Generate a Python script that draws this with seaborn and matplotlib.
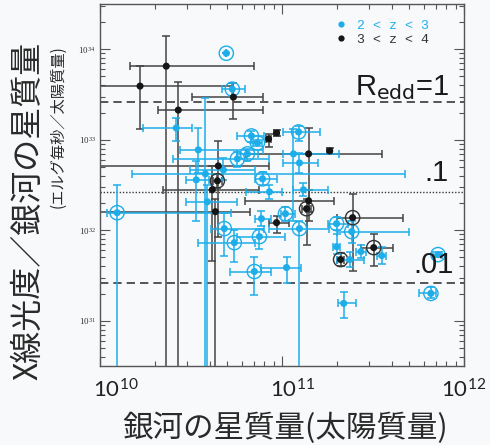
import numpy as np
import pandas as pd
import matplotlib
matplotlib.use("Agg")
import matplotlib.pyplot as plt
import matplotlib.transforms as mtransforms
from matplotlib.lines import Line2D
from matplotlib.ticker import LogLocator, NullFormatter, FixedLocator, FuncFormatter
import seaborn as sns

# ---------------- data (log10 values) ----------------
# 2 < z < 3 (cyan)
c_logm = [10.694, 10.727, 10.419, 10.540, 10.529, 10.579, 10.678, 10.755, 10.810, 10.590,
          10.683, 10.738, 10.094, 10.848, 11.025, 10.876, 10.887, 11.019, 11.096, 11.063,
          11.091, 11.096, 10.893, 10.931, 11.118, 10.832, 10.865, 11.300, 11.383, 11.300,
          11.372, 11.433, 11.548, 11.857, 11.818, 11.339]
c_logr = [33.956, 33.559, 33.130, 32.888, 32.557, 32.623, 32.667, 32.789, 32.844, 32.315,
          32.018, 31.863, 32.194, 31.544, 31.588, 31.930, 32.128, 32.183, 32.018, 32.844,
          33.086, 32.744, 32.568, 32.425, 32.447, 33.042, 32.965, 32.073, 31.985, 31.819,
          31.676, 31.764, 31.720, 31.731, 31.302, 31.192]
c_m_lo = [10.694, 10.672, 10.237, 10.441, 10.474, 10.176, 10.496, 10.402, 10.750, 10.474,
          10.612, 10.540, 10.039, 10.716, 10.882, 10.750, 10.854, 10.992, 10.930, 11.003,
          11.008, 11.003, 10.850, 10.800, 11.060, 10.750, 10.840, 11.250, 11.300, 11.280,
          11.300, 11.405, 11.520, 11.830, 11.752, 11.306]
c_m_hi = [10.694, 10.799, 10.507, 10.893, 10.600, 11.675, 10.850, 10.930, 10.870, 10.750,
          10.900, 10.850, 10.720, 10.937, 11.102, 11.019, 10.937, 11.074, 11.256, 11.311,
          11.207, 11.196, 10.975, 11.000, 11.250, 10.900, 10.890, 11.360, 11.697, 11.320,
          11.450, 11.460, 11.570, 11.880, 11.846, 11.405]
c_r_lo = [33.956, 33.482, 32.987, 32.634, 32.106, 30.000, 32.550, 32.700, 32.770, 30.000,
          31.720, 31.654, 30.000, 31.280, 31.412, 31.797, 32.051, 32.100, 30.000, 32.106,
          32.987, 32.634, 32.500, 32.350, 32.380, 32.980, 32.930, 32.000, 31.860, 31.740,
          31.590, 31.690, 31.630, 31.700, 31.247, 31.027]
c_r_hi = [33.956, 33.626, 33.240, 33.130, 32.767, 33.460, 32.800, 32.870, 32.900, 32.500,
          32.194, 32.007, 32.502, 31.709, 31.709, 32.018, 32.216, 32.260, 32.100, 33.119,
          33.152, 32.855, 32.640, 32.500, 32.520, 33.100, 33.000, 32.150, 32.100, 31.960,
          31.760, 31.840, 31.810, 31.760, 31.368, 31.313]
c_ring = [1, 1, 0, 0, 0, 0, 0, 1, 1, 0,
          1, 1, 1, 1, 0, 1, 0, 1, 1, 0,
          1, 0, 1, 0, 0, 1, 1, 1, 1, 0,
          0, 0, 0, 1, 1, 0]

# 3 < z < 4 (black)
b_logm = [10.364, 10.220, 10.430, 10.733, 10.650, 10.645, 10.617, 10.634, 11.146, 11.146,
          11.135, 10.970, 10.926, 10.970, 11.262, 11.388, 11.322, 11.504]
b_logr = [33.813, 33.593, 33.328, 33.471, 32.711, 32.546, 32.447, 32.205, 32.844, 32.326,
          32.238, 32.084, 33.009, 33.075, 32.877, 32.139, 31.676, 31.808]
b_m_lo = [10.165, 9.900, 10.320, 10.507, 9.900, 10.620, 10.347, 9.900, 10.800, 10.799,
          11.110, 10.926, 10.910, 10.955, 11.247, 11.300, 11.300, 11.433]
b_m_hi = [10.848, 10.727, 10.893, 10.893, 10.926, 10.670, 10.871, 10.826, 11.548, 11.284,
          11.160, 11.036, 10.940, 10.985, 11.277, 11.664, 11.340, 11.609]
b_r_lo = [30.000, 33.119, 30.000, 33.229, 31.920, 32.470, 31.665, 30.000, 32.106, 32.200,
          31.841, 31.974, 32.921, 33.045, 32.847, 31.555, 31.600, 31.610]
b_r_hi = [34.143, 33.813, 33.637, 33.626, 32.987, 32.620, 32.711, 32.350, 33.130, 32.450,
          32.350, 32.161, 33.064, 33.105, 32.907, 32.403, 31.750, 31.963]
b_ring = [0, 0, 0, 0, 0, 1, 0, 0, 0, 0,
          1, 0, 0, 0, 0, 1, 1, 1]

groups = ["2 < z < 3", "3 < z < 4"]
edd_levels = [33.42, 32.42, 31.42]
edd_labels = [r"R$_{\mathrm{edd}}$=1", ".1", ".01"]
x_ticks = [1e10, 1e11, 1e12]

CYAN = "#1daeea"
BLACK = "#161616"
BAR_BLACK = "#444444"
BG = "#f8f9fb"

# ---------------- build table ----------------
def frame(logm, logr, mlo, mhi, rlo, rhi, ring, grp):
    return pd.DataFrame({
        "mass": 10 ** np.array(logm), "ratio": 10 ** np.array(logr),
        "m_lo": 10 ** np.array(mlo), "m_hi": 10 ** np.array(mhi),
        "r_lo": 10 ** np.array(rlo), "r_hi": 10 ** np.array(rhi),
        "ring": np.array(ring, dtype=bool), "group": grp})

df = pd.concat([frame(c_logm, c_logr, c_m_lo, c_m_hi, c_r_lo, c_r_hi, c_ring, groups[0]),
                frame(b_logm, b_logr, b_m_lo, b_m_hi, b_r_lo, b_r_hi, b_ring, groups[1])],
               ignore_index=True)

sns.set_theme(style="ticks")
plt.rcParams["font.family"] = ["Noto Sans CJK JP", "DejaVu Sans"]

fig = plt.figure(figsize=(4.9, 4.45), dpi=100, facecolor=BG)
ax = fig.add_axes([100 / 490, 1 - 366 / 445, 364 / 490, 362 / 445])
ax.set_facecolor(BG)
ax.set_xscale("log")
ax.set_yscale("log")
ax.set_xlim(1e10, 1e12)
ax.set_ylim(10 ** 30.5, 10 ** 34.5)

palette = {groups[0]: CYAN, groups[1]: BLACK}
barcol = {groups[0]: CYAN, groups[1]: BAR_BLACK}

# reference lines
ax.axhline(10 ** edd_levels[0], color="#3a3a3a", lw=1.2, ls=(0, (5, 3)), zorder=1)
ax.axhline(10 ** edd_levels[1], color="#3a3a3a", lw=1.0, ls=(0, (1, 1.3)), zorder=1)
ax.axhline(10 ** edd_levels[2], color="#3a3a3a", lw=1.2, ls=(0, (5, 3)), zorder=1)

# error bars
for g in [groups[1], groups[0]]:
    sub = df[df.group == g]
    xerr = np.vstack([sub.mass - sub.m_lo, sub.m_hi - sub.mass])
    yerr = np.vstack([sub.ratio - sub.r_lo, sub.r_hi - sub.ratio])
    ax.errorbar(sub.mass, sub.ratio, xerr=xerr, yerr=yerr, fmt="none",
                ecolor=barcol[g], elinewidth=1.1, capsize=3.2, capthick=1.1,
                zorder=2 if g == groups[1] else 3)

# rings
rings = df[df.ring]
sns.scatterplot(data=rings, x="mass", y="ratio", hue="group", palette=palette,
                s=105, facecolors="none", linewidth=1.0, legend=False, ax=ax, zorder=4)
for coll in ax.collections[-1:]:
    cols = [CYAN if g == groups[0] else "#333333" for g in rings.group]
    coll.set_edgecolor(cols)
    coll.set_facecolor("none")

# points
sns.scatterplot(data=df, x="mass", y="ratio", hue="group", palette=palette,
                s=26, linewidth=0, legend=False, ax=ax, zorder=5)

ax.set_xlabel("")
ax.set_ylabel("")

# ticks
ax.xaxis.set_major_locator(FixedLocator(x_ticks))
ax.xaxis.set_minor_locator(LogLocator(base=10, subs=np.arange(2, 10)))
ax.yaxis.set_major_locator(LogLocator(base=10, numticks=10))
ax.yaxis.set_minor_locator(LogLocator(base=10, subs=np.arange(2, 10), numticks=50))
ax.xaxis.set_minor_formatter(NullFormatter())
ax.yaxis.set_minor_formatter(NullFormatter())
ax.xaxis.set_major_formatter(FuncFormatter(lambda v, p: r"$\mathregular{10^{%d}}$" % round(np.log10(v))))
ax.yaxis.set_major_formatter(FuncFormatter(lambda v, p: r"$\mathregular{10^{%d}}$" % round(np.log10(v))))
ax.tick_params(which="both", direction="in", top=True, right=True, color="#555555", width=0.8)
ax.tick_params(which="major", length=7)
ax.tick_params(which="minor", length=3.5)
ax.tick_params(axis="x", which="major", pad=9, labelsize=16, labelcolor="#222222")
ax.tick_params(axis="y", which="major", pad=3, labelsize=6.5, labelcolor="#333333")
for lab in ax.get_yticklabels():
    lab.set_fontfamily(["Liberation Serif", "DejaVu Serif"])
offsets = [16, 10, 0]
for lab, off in zip(ax.get_xticklabels(), offsets):
    lab.set_fontfamily(["Lato", "DejaVu Sans"])
    lab.set_transform(lab.get_transform() + mtransforms.ScaledTranslation(off / 100, 0, fig.dpi_scale_trans))
for sp in ax.spines.values():
    sp.set_color("#555555")
    sp.set_linewidth(1.0)

# Eddington labels
txt_kw = dict(fontsize=21, color="#1a1a1a", ha="right", va="baseline",
              family=["Liberation Sans", "DejaVu Sans"], zorder=6)
ax.text(10 ** 11.917, 10 ** 33.493, edd_labels[0], **txt_kw)
ax.text(10 ** 11.917, 10 ** 32.546, edd_labels[1], **txt_kw)
ax.text(10 ** 11.945, 10 ** 31.533, edd_labels[2], **txt_kw)

# legend
handles = [Line2D([], [], ls="none", marker="o", ms=4.5, mfc=palette[g], mec="none") for g in groups]
leg = ax.legend(handles, groups, loc="upper left", bbox_to_anchor=(0.615, 0.99),
                frameon=False, handlelength=0.8, handletextpad=0.8, labelspacing=0.15,
                prop={"family": ["Liberation Mono", "DejaVu Sans Mono"], "size": 9.5})
for t, g in zip(leg.get_texts(), groups):
    t.set_color(CYAN if g == groups[0] else "#333333")

# axis titles
fig.text(28 / 490, 1 - 211 / 445, "X線光度／銀河の星質量", rotation=90, fontsize=23,
         ha="center", va="center", color="#2a2a2a")
fig.text(58 / 490, 1 - 127 / 445, "(エルグ毎秒／太陽質量)", rotation=90, fontsize=11,
         ha="center", va="center", color="#2a2a2a")
fig.text(285 / 490, 1 - 428 / 445, "銀河の星質量(太陽質量)", fontsize=22,
         ha="center", va="center", color="#2a2a2a")

fig.savefig("out.png", dpi=100, facecolor=BG)
